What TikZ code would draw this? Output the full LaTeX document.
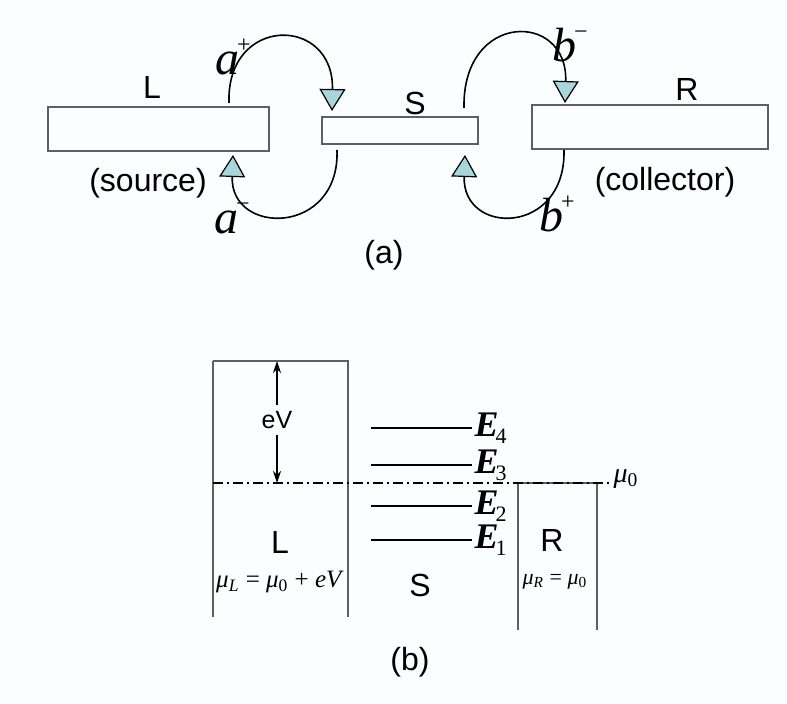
\documentclass[tikz,border=0pt]{standalone}
\usepackage{fontspec}
\setmainfont{Liberation Sans}
\newfontfamily\serif{Liberation Serif}
\usetikzlibrary{arrows.meta, calc, backgrounds}
\definecolor{tipcyan}{RGB}{168,214,218}
\definecolor{paper}{RGB}{251,254,254}
\definecolor{wallgray}{RGB}{95,95,95}

\newcommand{\coef}[2]{{\serif\fontsize{24}{24}\selectfont\itshape #1\kern-1pt\raisebox{11pt}{\fontsize{12}{12}\selectfont\upshape #2}}}
\newcommand{\lev}[1]{{\serif\fontsize{18}{18}\selectfont\bfseries\itshape E}\kern-1.5pt{\serif\fontsize{11}{11}\selectfont\raisebox{-3.5pt}{#1}}}

\tikzset{
  lead/.style={
    rectangle, draw=wallgray, fill=paper, line width=0.9pt,
    inner sep=0pt, outer sep=0pt,
  },
  hop/.style={
    line width=0.8pt, draw=black,
    -{Triangle[length=11pt, width=13pt, fill=tipcyan, line width=0.6pt]},
  },
  tlabel/.style={font=\fontsize{16}{16}\selectfont, inner sep=0pt},
  wall/.style={draw=wallgray, line width=0.8pt},
  level/.style={draw=black, line width=0.7pt},
  fermi/.style={draw=black, line width=0.6pt,
    dash pattern=on 5pt off 2pt on 1pt off 2pt},
}

\begin{document}
\begin{tikzpicture}[x=0.5pt, y=-0.5pt]

  \fill[paper] (0,0) rectangle (787,704);
  \useasboundingbox (0,0) rectangle (787,704);

  % (a) the three pieces
  \node[lead, minimum width=110.5pt, minimum height=22pt]   (L) at (158.5,129) {};
  \node[lead, minimum width=78pt,    minimum height=13.5pt] (S) at (400,130.5) {};
  \node[lead, minimum width=118pt,   minimum height=22pt]   (R) at (650,127) {};

  \node[tlabel] (Ltxt) at (152,88)  {L};
  \node[tlabel] (Stxt) at (415,103) {S};
  \node[tlabel] (Rtxt) at (687,90)  {R};
  \node[tlabel] (src)  at (148,183) {(source)};
  \node[tlabel] (col)  at (665,182) {(collector)};
  \node[tlabel] (capa) at (384,255) {(a)};

  \coordinate (ap0) at ($(L.north east)+(-40,-4)$);
  \coordinate (ap1) at ($(S.north west)+(10,-6)$);
  \coordinate (am0) at ($(S.south west)+(15,6)$);
  \coordinate (am1) at ($(L.south east)+(-36,4)$);
  \coordinate (bm0) at ($(S.north east)+(-14,-9)$);
  \coordinate (bm1) at ($(R.north west)+(33,-2)$);
  \coordinate (bp0) at ($(R.south west)+(32,1)$);
  \coordinate (bp1) at ($(S.south east)+(-13,11)$);

  \draw[hop] (ap0) .. controls (226,15) and (334,15) .. (ap1);
  \draw[hop] (am0) .. controls (340,236) and (230,236) .. (am1);
  \draw[hop] (bm0) .. controls (462,11) and (568,11) .. (bm1);
  \draw[hop] (bp0) .. controls (566,236) and (462,236) .. (bp1);

  \node[inner sep=0pt] (ap) at (233,57)  {\coef{a}{+}};
  \node[inner sep=0pt] (am) at (232,218) {\coef{a}{\textminus}};
  \node[inner sep=0pt] (bm) at (570,45)  {\coef{b}{\textminus}};
  \node[inner sep=0pt] (bp) at (557,214) {\coef{b}{+}};

  % (b) energy levels
  \draw[wall] (213,617) -- (213,361);
  \draw[wall] (348,361) -- (348,617);
  \draw[draw=wallgray, line width=1.3pt] (212.5,361) -- (348.5,361);
  \draw[wall] (518,630) -- (518,483) -- (597,483) -- (597,630);
  \draw[fermi] (213,483) -- (611,483);

  \coordinate (top) at (277,361);
  \coordinate (mu)  at (277,483);
  \node[font=\fontsize{12.5}{12.5}\selectfont, fill=paper, inner sep=3pt] (eV) at (277,420) {eV};
  \draw[-{Stealth[length=6pt, width=4pt]}, line width=0.6pt] (eV.north) -- (top);
  \draw[-{Stealth[length=6pt, width=4pt]}, line width=0.6pt] (eV.south) -- (mu);

  \foreach \n/\y in {4/428, 3/465, 2/506, 1/540}
    \draw[level] (371,\y) -- (472,\y) node[right, inner sep=1pt] (E\n) {\lev{\n}};

  \node[tlabel] (Lb) at (280,542) {L};
  \node[tlabel] (Sb) at (420,585) {S};
  \node[tlabel] (Rb) at (552,540) {R};
  \node[inner sep=0pt, font=\serif\fontsize{12.5}{12.5}\selectfont] (muL) at (280,582)
    {\textit{μ}\textsubscript{\textit{L}} = \textit{μ}\textsubscript{0} + \textit{eV}};
  \node[inner sep=0pt, font=\serif\fontsize{11}{11}\selectfont] (muR) at (555,582)
    {\textit{μ}\textsubscript{\textit{R}} = \textit{μ}\textsubscript{0}};
  \node[inner sep=0pt, font=\serif\fontsize{14}{14}\selectfont] (mu0) at (626,479)
    {\textit{μ}\textsubscript{0}};
  \node[tlabel] (capb) at (410,662) {(b)};

\end{tikzpicture}
\end{document}
